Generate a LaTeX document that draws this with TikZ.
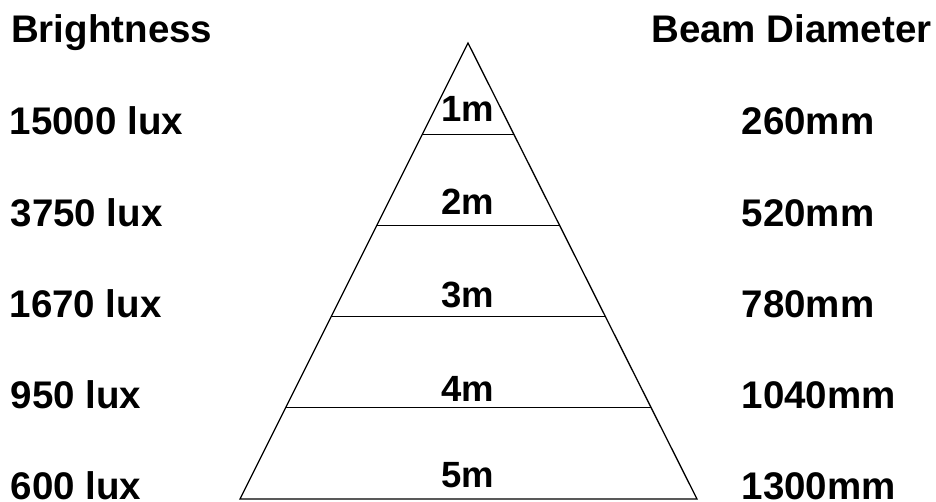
\documentclass[tikz,border=0pt]{standalone}
\usepackage{fontspec}
\setmainfont{Liberation Sans}
\usetikzlibrary{calc}
\begin{document}
\begin{tikzpicture}[x=1pt,y=-1pt,
  lbl/.style={inner sep=0pt,anchor=base west,font=\bfseries\fontsize{38.5}{40}\selectfont},
  dist/.style={inner sep=0pt,anchor=base,font=\bfseries\fontsize{36.5}{38}\selectfont},
  edge/.style={line width=1.3pt,line join=miter}]
\useasboundingbox (0,0) rectangle (936,502);
% triangle
\coordinate (apex) at (468,43);
\coordinate (bl) at (240,499);
\coordinate (br) at (697,499);
\draw[edge] (apex) -- (bl) -- (br) -- cycle;
\foreach \f in {0.2,0.4,0.6,0.8}{
  \draw[edge] ($(apex)!\f!(bl)$) -- ($(apex)!\f!(br)$);
}
% distance labels
\node[dist] (m1) at (468,122) {1m};
\node[dist] (m2) at (468,215) {2m};
\node[dist] (m3) at (468,307.7) {3m};
\node[dist] (m4) at (468,401.7) {4m};
\node[dist] (m5) at (468,487.7) {5m};
% left column
\node[lbl] (hb) at (11,42.7) {Brightness};
\node[lbl] (b1) at (9.5,135) {15000 lux};
\node[lbl] (b2) at (10.5,226.5) {3750 lux};
\node[lbl] (b3) at (9.5,317.5) {1670 lux};
\node[lbl] (b4) at (10.5,408.5) {950 lux};
\node[lbl] (b5) at (10.5,499) {600 lux};
% right column
\node[lbl] (hd) at (651,42.7) {Beam Diameter};
\node[lbl] (d1) at (741.5,135) {260mm};
\node[lbl] (d2) at (741.5,226.5) {520mm};
\node[lbl] (d3) at (741.5,317.5) {780mm};
\node[lbl] (d4) at (741.5,408.5) {1040mm};
\node[lbl] (d5) at (741.5,499) {1300mm};
\end{tikzpicture}
\end{document}
